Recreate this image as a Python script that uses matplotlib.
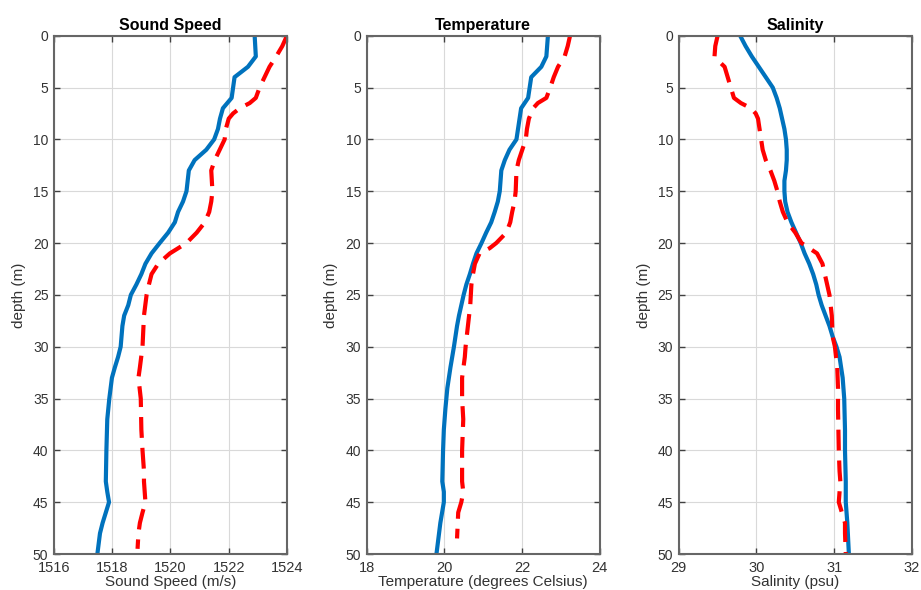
import matplotlib
matplotlib.use("Agg")
import matplotlib.pyplot as plt


# =========================================================
# Data
# =========================================================

ss_depth_a = [0, 2, 3, 4, 5, 6, 7, 8, 9, 10, 11, 12, 13, 15, 16, 17, 18, 19,
              20, 21, 22, 23, 24, 25, 26, 27, 28, 30, 31, 32, 33, 35, 37, 40,
              43, 44, 45, 46, 47, 48, 50]
ss_a = [1522.89, 1522.93, 1522.66, 1522.2, 1522.15, 1522.1, 1521.8, 1521.7,
        1521.63, 1521.5, 1521.23, 1520.83, 1520.63, 1520.55, 1520.43, 1520.26,
        1520.15, 1519.92, 1519.63, 1519.35, 1519.14, 1519.0, 1518.83, 1518.64,
        1518.55, 1518.41, 1518.35, 1518.29, 1518.2, 1518.09, 1517.99, 1517.9,
        1517.83, 1517.8, 1517.78, 1517.83, 1517.89, 1517.78, 1517.67, 1517.58,
        1517.49]

ss_depth_b = [0, 1, 2, 3, 4, 5, 6, 6.5, 7, 7.5, 8, 9, 10, 11, 12, 13, 15, 16,
              17, 18, 19, 20, 21, 22, 23, 24, 25, 27, 30, 32, 33, 35, 38, 40,
              42, 43, 45, 46, 47, 48, 49.5]
ss_b = [1524.0, 1523.84, 1523.63, 1523.4, 1523.23, 1523.06, 1522.93, 1522.72,
        1522.38, 1522.15, 1522.0, 1521.9, 1521.86, 1521.69, 1521.52, 1521.4,
        1521.44, 1521.4, 1521.33, 1521.18, 1520.9, 1520.55, 1519.98, 1519.58,
        1519.35, 1519.26, 1519.18, 1519.09, 1519.04, 1518.95, 1518.9, 1518.98,
        1519.0, 1519.04, 1519.09, 1519.09, 1519.14, 1519.04, 1518.95, 1518.9,
        1518.87]

t_depth_a = [0, 2, 3, 4, 5, 6, 7, 8, 10, 11, 12, 13, 15, 16, 17, 18, 19, 20,
             21, 22, 23, 24, 25, 27, 28, 30, 32, 34, 36, 38, 40, 43, 44, 45,
             47, 50]
t_a = [22.67, 22.63, 22.5, 22.24, 22.2, 22.16, 21.98, 21.94, 21.86, 21.68,
       21.56, 21.47, 21.43, 21.38, 21.3, 21.21, 21.08, 20.96, 20.83, 20.74,
       20.66, 20.57, 20.5, 20.38, 20.33, 20.25, 20.16, 20.08, 20.03, 19.99,
       19.97, 19.95, 19.99, 19.99, 19.9, 19.8]

t_depth_b = [0, 1, 2, 3, 4, 5, 6, 6.5, 7, 8, 9, 10, 11, 12, 13, 15, 16, 17,
             18, 19, 19.5, 20, 20.5, 21, 22, 23, 24, 26, 28, 30, 31, 33, 35,
             37, 40, 43, 44, 45, 46, 48.5]
t_b = [23.24, 23.18, 23.1, 22.93, 22.82, 22.73, 22.63, 22.41, 22.29, 22.18,
       22.13, 22.1, 22.01, 21.92, 21.86, 21.84, 21.81, 21.75, 21.7, 21.6,
       21.47, 21.34, 21.17, 20.91, 20.79, 20.74, 20.7, 20.67, 20.61, 20.55,
       20.53, 20.46, 20.46, 20.49, 20.46, 20.46, 20.49, 20.44, 20.36, 20.33]

s_depth_a = [0, 1, 2, 3, 4, 5, 6, 7, 8, 9, 10, 11, 12, 13, 14, 15, 16, 17, 18,
             19, 20, 21, 22, 23, 24, 25, 26, 27, 28, 29, 30, 31, 32, 33, 35,
             38, 40, 43, 45, 47, 50]
s_a = [29.79, 29.86, 29.94, 30.03, 30.12, 30.21, 30.26, 30.3, 30.33, 30.36,
       30.38, 30.39, 30.39, 30.38, 30.36, 30.36, 30.37, 30.4, 30.45, 30.51,
       30.57, 30.62, 30.68, 30.73, 30.77, 30.8, 30.84, 30.89, 30.94, 30.98,
       31.03, 31.07, 31.09, 31.11, 31.13, 31.14, 31.14, 31.15, 31.15, 31.17,
       31.19]

s_depth_b = [0, 1, 2, 2.5, 3, 4, 5, 6, 6.5, 7, 7.5, 8, 9, 10, 11, 12, 13, 14,
             15, 16, 17, 18, 19, 20, 20.5, 21, 22, 23, 24, 25, 27, 29, 30, 32,
             34, 36, 40, 42, 43, 44, 45, 46, 47, 48, 50]
s_b = [29.5, 29.47, 29.46, 29.52, 29.59, 29.63, 29.67, 29.71, 29.8, 29.93,
       29.99, 30.02, 30.04, 30.06, 30.08, 30.12, 30.18, 30.23, 30.27, 30.3,
       30.34, 30.4, 30.5, 30.58, 30.68, 30.78, 30.85, 30.88, 30.91, 30.94,
       30.97, 30.98, 31.01, 31.04, 31.05, 31.05, 31.06, 31.07, 31.08, 31.07,
       31.06, 31.1, 31.14, 31.14, 31.15]

titles = ["Sound Speed", "Temperature", "Salinity"]
xlabels = ["Sound Speed (m/s)", "Temperature (degrees Celsius)", "Salinity (psu)"]
xlims = [(1516, 1524), (18, 24), (29, 32)]
xticks = [[1516, 1518, 1520, 1522, 1524], [18, 20, 22, 24], [29, 30, 31, 32]]
yticks = list(range(0, 51, 5))


# =========================================================
# Plot
# =========================================================

plt.rcParams["font.family"] = ["Liberation Sans", "DejaVu Sans"]

fig = plt.figure(figsize=(9.21, 5.90), dpi=100)

lefts = [0.0586, 0.398, 0.737]
series = [
    (ss_a, ss_depth_a, ss_b, ss_depth_b),
    (t_a, t_depth_a, t_b, t_depth_b),
    (s_a, s_depth_a, s_b, s_depth_b),
]

for i, left in enumerate(lefts):

    ax = fig.add_axes([left, 0.061, 0.253, 0.8785])

    xa, da, xb, db = series[i]

    ax.plot(xa, da, color="#0072BD", linewidth=3.0, solid_capstyle="butt")
    ax.plot(xb, db, color="#FF0000", linewidth=3.0, dashes=(5, 2.4))

    ax.set_xlim(*xlims[i])
    ax.set_ylim(50, 0)
    ax.set_xticks(xticks[i])
    ax.set_yticks(yticks)

    ax.grid(True, color="#d9d9d9", linewidth=0.8)
    ax.set_axisbelow(True)

    ax.tick_params(direction="in", top=True, right=True, length=4,
                   width=1.0, color="#404040", labelcolor="#333333")
    ax.tick_params(axis="x", pad=5, labelsize=10.5)
    ax.tick_params(axis="y", pad=4, labelsize=10)

    for sp in ax.spines.values():
        sp.set_color("#666666")
        sp.set_linewidth(1.5)

    ax.set_title(titles[i], fontsize=11.5, fontweight="bold",
                 color="black", pad=4)
    ax.set_xlabel(xlabels[i], fontsize=11, color="#333333", labelpad=0)
    ax.set_ylabel("depth (m)", fontsize=11, color="#333333", labelpad=5)

fig.savefig("out.png", dpi=100)
